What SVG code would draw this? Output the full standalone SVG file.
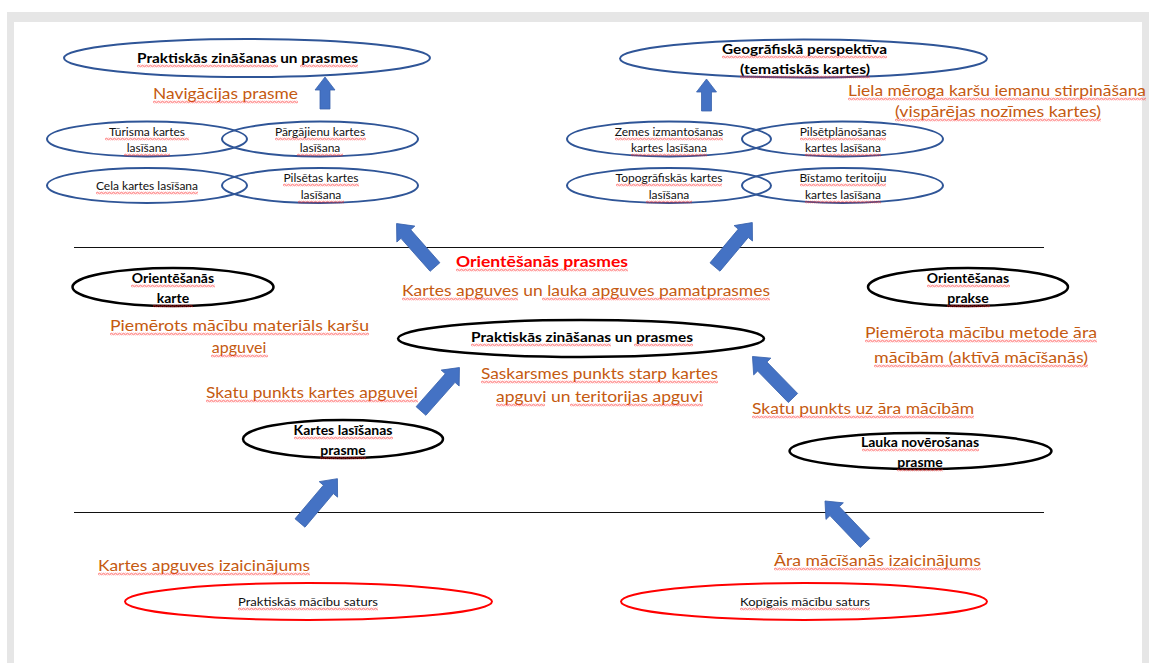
<svg xmlns="http://www.w3.org/2000/svg" xmlns:xlink="http://www.w3.org/1999/xlink" width="1149" height="663" viewBox="0 0 1149 663">
<defs>
<style>
text{font-family:Lato,"Open Sans","Liberation Sans",sans-serif;text-anchor:middle}
.b14{font-size:14px;font-weight:700;fill:#000}
.s12{font-size:12px;fill:#111}
.or{font-size:16px;fill:#c55a11}
.red{font-size:16px;font-weight:700;fill:#ff0000}
.eb{fill:none;stroke:#2f5597;stroke-width:2}
.ek{fill:none;stroke:#000;stroke-width:2.5}
.er{fill:none;stroke:#ff0000;stroke-width:2}
.arr{fill:#4472c4;stroke:#3a63ad;stroke-width:0.8}
.rule{stroke:#111;stroke-width:1}
.sq{fill:url(#wv);height:3px}
</style>
<pattern id="wv" patternUnits="userSpaceOnUse" width="4" height="3">
<path d="M0,2.2 L1,0.8 L2,0.8 L3,2.2 L4,2.2" fill="none" stroke="#ff2020" stroke-width="0.9" stroke-opacity="0.85"/>
</pattern>
<polygon id="ad" points="0,-6.5 44,-6.5 44,-12 58,0 44,12 44,6.5 0,6.5"/>
<polygon id="av" points="-5,0 -5,-19 -10,-19 0,-32 10,-19 5,-19 5,0"/>
</defs>
<rect x="0" y="0" width="1149" height="663" fill="#ffffff"/>
<rect x="7" y="12" width="1142" height="651" fill="#e6e6e6"/>
<rect x="14" y="22" width="1128" height="641" fill="#ffffff"/>

<g id="rules">
<line class="rule" x1="74" y1="247.5" x2="1044" y2="247.5"/>
<line class="rule" x1="74" y1="512.5" x2="1044" y2="512.5"/>
</g>

<g id="n-top-left">
<ellipse class="eb" cx="247" cy="58" rx="183" ry="19"/>
<text class="b14" x="247.5" y="63" textLength="221" lengthAdjust="spacingAndGlyphs">Praktiskās zināšanas un prasmes</text>
</g>
<g id="n-turisma">
<ellipse class="eb" cx="147" cy="139" rx="100" ry="17.5"/>
<text class="s12" x="147" y="136">Tūrisma kartes</text>
<text class="s12" x="147" y="152">lasīšana</text>
</g>
<g id="n-pargajienu">
<ellipse class="eb" cx="320" cy="139" rx="98" ry="17.5"/>
<text class="s12" x="320" y="136">Pārgājienu kartes</text>
<text class="s12" x="320" y="152">lasīšana</text>
</g>
<g id="n-cela">
<ellipse class="eb" cx="147" cy="185.5" rx="100" ry="17.5"/>
<text class="s12" x="147" y="190">Cela kartes lasīšana</text>
</g>
<g id="n-pilsetas">
<ellipse class="eb" cx="320" cy="185.5" rx="98" ry="17.5"/>
<text class="s12" x="321" y="182">Pilsētas kartes</text>
<text class="s12" x="321" y="199">lasīšana</text>
</g>

<g id="n-top-right">
<ellipse class="eb" cx="803.5" cy="58.5" rx="183.5" ry="19"/>
<text class="b14" x="804.5" y="54" textLength="165" lengthAdjust="spacingAndGlyphs">Geogrāfiskā perspektīva</text>
<text class="b14" x="805" y="74" textLength="130" lengthAdjust="spacingAndGlyphs">(tematiskās kartes)</text>
</g>
<g id="n-zemes">
<ellipse class="eb" cx="669" cy="139" rx="102" ry="17.5"/>
<text class="s12" x="669" y="136">Zemes izmantošanas</text>
<text class="s12" x="669" y="152">kartes lasīšana</text>
</g>
<g id="n-pilsetplan">
<ellipse class="eb" cx="842.5" cy="139" rx="100.5" ry="17.5"/>
<text class="s12" x="843" y="136">Pilsētplānošanas</text>
<text class="s12" x="843" y="152">kartes lasīšana</text>
</g>
<g id="n-topo">
<ellipse class="eb" cx="669" cy="185.5" rx="102" ry="17.5"/>
<text class="s12" x="669" y="182">Topogrāfiskās kartes</text>
<text class="s12" x="669" y="199">lasīšana</text>
</g>
<g id="n-bistamo">
<ellipse class="eb" cx="842.5" cy="185.5" rx="100.5" ry="17.5"/>
<text class="s12" x="843" y="182">Bīstamo teritoiju</text>
<text class="s12" x="843" y="199">kartes lasīšana</text>
</g>

<g id="n-or-karte">
<ellipse class="ek" cx="173" cy="287" rx="100.5" ry="19"/>
<text class="b14" x="173" y="283">Orientēšanās</text>
<text class="b14" x="173" y="303">karte</text>
</g>
<g id="n-mid">
<ellipse class="ek" cx="581" cy="338.5" rx="183" ry="18.5"/>
<text class="b14" x="582" y="342" textLength="222" lengthAdjust="spacingAndGlyphs">Praktiskās zināšanas un prasmes</text>
</g>
<g id="n-or-prakse">
<ellipse class="ek" cx="968" cy="287" rx="100" ry="19"/>
<text class="b14" x="968" y="283">Orientēšanas</text>
<text class="b14" x="968" y="303">prakse</text>
</g>
<g id="n-kartes-las">
<ellipse class="ek" cx="343" cy="439" rx="100" ry="19"/>
<text class="b14" x="343" y="435">Kartes lasīšanas</text>
<text class="b14" x="343" y="455">prasme</text>
</g>
<g id="n-lauka">
<ellipse class="ek" cx="920.5" cy="451" rx="131" ry="18"/>
<text class="b14" x="920" y="447">Lauka novērošanas</text>
<text class="b14" x="920" y="467">prasme</text>
</g>

<g id="n-prakt-saturs">
<ellipse class="er" cx="308.5" cy="601.5" rx="183.5" ry="18.5"/>
<text class="s12" x="308" y="606" textLength="140" lengthAdjust="spacingAndGlyphs">Praktiskās mācību saturs</text>
</g>
<g id="n-kopigais">
<ellipse class="er" cx="804" cy="601.5" rx="183" ry="18.5"/>
<text class="s12" x="805" y="606" textLength="130" lengthAdjust="spacingAndGlyphs">Kopīgais mācību saturs</text>
</g>

<g id="labels">
<text class="or" x="225.5" y="99" textLength="145" lengthAdjust="spacingAndGlyphs">Navigācijas prasme</text>
<text class="or" x="997" y="96" textLength="298" lengthAdjust="spacingAndGlyphs">Liela mēroga karšu iemanu stirpināšana</text>
<text class="or" x="998" y="117" textLength="206" lengthAdjust="spacingAndGlyphs">(vispārējas nozīmes kartes)</text>
<text class="red" x="542" y="267" textLength="172" lengthAdjust="spacingAndGlyphs">Orientēšanās prasmes</text>
<text class="or" x="586" y="296" textLength="368" lengthAdjust="spacingAndGlyphs">Kartes apguves un lauka apguves pamatprasmes</text>
<text class="or" x="239.5" y="331" textLength="259" lengthAdjust="spacingAndGlyphs">Piemērots mācību materiāls karšu</text>
<text class="or" x="239" y="353">apguvei</text>
<text class="or" x="599.5" y="379" textLength="237" lengthAdjust="spacingAndGlyphs">Saskarsmes punkts starp kartes</text>
<text class="or" x="599.5" y="402" textLength="207" lengthAdjust="spacingAndGlyphs">apguvi un teritorijas apguvi</text>
<text class="or" x="312" y="398" textLength="212" lengthAdjust="spacingAndGlyphs">Skatu punkts kartes apguvei</text>
<text class="or" x="981" y="338" textLength="232" lengthAdjust="spacingAndGlyphs">Piemērota mācību metode āra</text>
<text class="or" x="981" y="363" textLength="214" lengthAdjust="spacingAndGlyphs">mācībām (aktīvā mācīšanās)</text>
<text class="or" x="863" y="414" textLength="222" lengthAdjust="spacingAndGlyphs">Skatu punkts uz āra mācībām</text>
<text class="or" x="204" y="571" textLength="212" lengthAdjust="spacingAndGlyphs">Kartes apguves izaicinājums</text>
<text class="or" x="877.5" y="566" textLength="207" lengthAdjust="spacingAndGlyphs">Āra mācīšanās izaicinājums</text>
</g>

<g id="spellcheck">
<rect class="sq" width="141" height="3" transform="translate(137,64.5)"/>
<rect class="sq" width="58" height="3" transform="translate(300,64.5)"/>
<rect class="sq" width="145" height="3" transform="translate(153,100.5)"/>
<rect class="sq" width="84" height="3" transform="translate(105,137.5)"/>
<rect class="sq" width="46" height="3" transform="translate(124,153.5)"/>
<rect class="sq" width="91" height="3" transform="translate(275,137.5)"/>
<rect class="sq" width="46" height="3" transform="translate(297,153.5)"/>
<rect class="sq" width="102" height="3" transform="translate(96,191.5)"/>
<rect class="sq" width="76" height="3" transform="translate(283,183.5)"/>
<rect class="sq" width="46" height="3" transform="translate(298,200.5)"/>
<rect class="sq" width="165" height="3" transform="translate(722,55.5)"/>
<rect class="sq" width="130" height="3" transform="translate(740,75.5)"/>
<rect class="sq" width="108" height="3" transform="translate(615,137.5)"/>
<rect class="sq" width="76" height="3" transform="translate(631,153.5)"/>
<rect class="sq" width="86" height="3" transform="translate(800,137.5)"/>
<rect class="sq" width="76" height="3" transform="translate(805,153.5)"/>
<rect class="sq" width="106" height="3" transform="translate(616,183.5)"/>
<rect class="sq" width="46" height="3" transform="translate(646,200.5)"/>
<rect class="sq" width="86" height="3" transform="translate(800,183.5)"/>
<rect class="sq" width="76" height="3" transform="translate(805,200.5)"/>
<rect class="sq" width="298" height="3" transform="translate(848,97.5)"/>
<rect class="sq" width="206" height="3" transform="translate(895,118.5)"/>
<rect class="sq" width="84" height="3" transform="translate(131,284.5)"/>
<rect class="sq" width="40" height="3" transform="translate(153,304.5)"/>
<rect class="sq" width="172" height="3" transform="translate(456,268.5)"/>
<rect class="sq" width="116" height="3" transform="translate(402,297.5)"/>
<rect class="sq" width="228" height="3" transform="translate(542,297.5)"/>
<rect class="sq" width="259" height="3" transform="translate(110,332.5)"/>
<rect class="sq" width="57" height="3" transform="translate(211,354.5)"/>
<rect class="sq" width="140" height="3" transform="translate(471,343.5)"/>
<rect class="sq" width="59" height="3" transform="translate(634,343.5)"/>
<rect class="sq" width="237" height="3" transform="translate(481,380.5)"/>
<rect class="sq" width="49" height="3" transform="translate(496,403.5)"/>
<rect class="sq" width="133" height="3" transform="translate(570,403.5)"/>
<rect class="sq" width="212" height="3" transform="translate(206,399.5)"/>
<rect class="sq" width="99" height="3" transform="translate(294,436.5)"/>
<rect class="sq" width="46" height="3" transform="translate(320,456.5)"/>
<rect class="sq" width="83" height="3" transform="translate(927,284.5)"/>
<rect class="sq" width="43" height="3" transform="translate(947,304.5)"/>
<rect class="sq" width="232" height="3" transform="translate(865,339.5)"/>
<rect class="sq" width="214" height="3" transform="translate(874,364.5)"/>
<rect class="sq" width="222" height="3" transform="translate(752,415.5)"/>
<rect class="sq" width="117" height="3" transform="translate(862,448.5)"/>
<rect class="sq" width="46" height="3" transform="translate(897,468.5)"/>
<rect class="sq" width="212" height="3" transform="translate(98,572.5)"/>
<rect class="sq" width="207" height="3" transform="translate(774,567.5)"/>
<rect class="sq" width="140" height="3" transform="translate(238,607.5)"/>
<rect class="sq" width="130" height="3" transform="translate(740,607.5)"/>
</g>

<g id="connectors">
<use xlink:href="#av" class="arr" transform="translate(325,109)"/>
<use xlink:href="#av" class="arr" transform="translate(706.5,111)"/>
<use xlink:href="#ad" class="arr" transform="translate(435,267) rotate(-131.5)"/>
<use xlink:href="#ad" class="arr" transform="translate(715,267) rotate(-50)"/>
<use xlink:href="#ad" class="arr" transform="translate(421,411) rotate(-48.5)"/>
<use xlink:href="#ad" class="arr" transform="translate(793,398) rotate(-134.3)"/>
<use xlink:href="#ad" class="arr" transform="translate(300,523) rotate(-49.8)"/>
<use xlink:href="#ad" class="arr" transform="translate(865,543) rotate(-133.6)"/>
</g>
</svg>
